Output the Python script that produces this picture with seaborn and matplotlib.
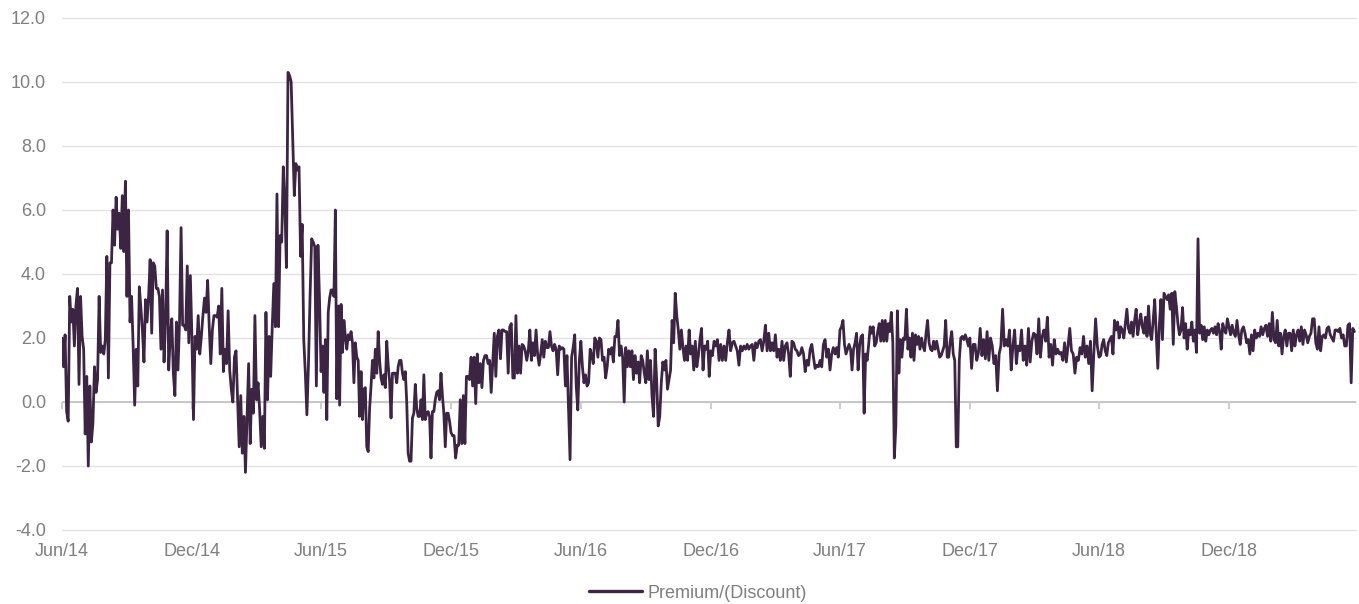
import numpy as np
import pandas as pd
import matplotlib
matplotlib.use("Agg")
import matplotlib.pyplot as plt
import matplotlib.dates as mdates
from matplotlib.lines import Line2D
import seaborn as sns

# ---- data: premium/(discount) %, by half-year ----
h2_2014 = [2.0, 1.1, 2.1, -0.3, -0.6, 3.3, 2.5, 2.9, 1.75, 3.0, 3.55, 0.55, 3.3, 2.05, 1.65, -1.0, 0.8, -2.0,
           0.5, -1.25, -0.65, 1.1, 0.3, 0.7, 3.3, 1.55, 1.75, 1.5, 1.95, 4.55, 0.75, 4.35, 4.35, 6.0, 4.9, 6.4,
           5.4, 5.9, 4.8, 6.45, 4.7, 6.9, 3.3, 6.0, 2.5, 3.3, 1.75, -0.1, 1.65, 0.5, 3.6, 2.95, 2.25, 1.25, 3.2,
           2.5, 3.3, 4.45, 2.15, 4.35, 4.25, 3.55, 3.55, 3.3, 1.65, 3.5, 1.25, 2.65, 5.35, 1.0, 2.05, 2.6, 0.9,
           0.2, 2.5, 1.0, 2.5, 5.45, 2.4, 2.4, 2.25, 4.25, 1.85, 3.95]
h1_2015 = [2.05, -0.55, 2.05, 1.65, 2.7, 1.5, 2.05, 2.7, 3.25, 2.8, 3.8, 2.35, 1.2, 2.25, 2.7, 2.7, 2.65, 3.0,
           1.5, 3.55, 0.95, 1.65, 1.2, 2.85, 1.0, 0.4, 0.0, 1.4, 1.6, 0.07, -1.4, 0.2, -1.6, -0.45, -2.2, -0.5,
           1.2, -1.3, 0.4, -0.35, 2.7, 0.07, 0.6, -0.25, -1.4, -0.45, -1.45, 2.8, 0.07, 2.05, 0.8, 2.35, 3.7,
           2.35, 6.5, 2.35, 5.2, 5.0, 7.35, 6.2, 4.2, 10.3, 10.2, 10.0, 8.2, 6.45, 7.45, 7.25, 7.35, 4.55, 5.55,
           1.95, 0.9, -0.4, 1.2, 3.3, 5.1, 5.0, 4.85, 0.5, 4.9, 3.2]
h2_2015 = [0.95, 1.75, 0.3, 1.95, -0.55, 2.8, 3.25, 3.5, 3.5, 3.3, 6.0, 0.1, 3.0, -0.1, 3.05, 1.55, 2.55, 2.05,
           1.65, 2.1, 1.95, 2.2, 1.85, 0.6, 1.85, 1.4, 1.3, -0.45, 0.95, -0.55, 0.4, 0.45, -1.4, -1.55, -0.2, 0.5,
           1.3, 0.75, 1.65, 0.9, 2.2, 1.3, 0.75, 0.55, 0.85, 0.45, 1.9, 1.15, 0.65, -0.5, 0.9, 0.9, 0.9, 0.6,
           1.1, 1.3, 1.3, 0.9, 0.7, 0.95, 0.0, -1.6, -1.85, -1.85, -0.5, -0.35, 0.55, -0.2, -0.45, -0.45, 0.07,
           -0.55, 0.85, -0.55, -0.35, -0.3, -0.45, -1.75, -0.3, -0.3, 0.07, 0.3, 0.35, 0.07, 0.9, 0.2, -0.35,
           -1.4, -0.35, -0.35, -0.6]
h1_2016 = [-0.95, -1.05, -1.05, -1.75, -1.35, -1.35, 0.07, -1.3, 0.2, -1.3, 0.8, 0.8, 0.7, 1.4, 0.5, 1.4, -0.05,
           1.5, 0.6, 1.2, 0.45, 1.3, 1.45, 1.45, 1.2, 1.3, 0.3, 1.2, 2.15, 0.8, 2.05, 2.25, 1.35, 2.25, 2.25, 2.2,
           2.2, 0.9, 2.35, 2.45, 0.75, 0.75, 2.7, 0.9, 1.75, 0.9, 1.8, 1.75, 1.6, 1.3, 1.6, 2.25, 1.3, 1.85, 1.45,
           2.25, 1.5, 1.15, 1.5, 1.95, 1.4, 1.9, 1.7, 1.7, 2.2, 1.75, 1.6, 1.8, 1.65, 0.85, 1.75, 1.65, 1.7, 1.65,
           0.5, 1.45, -0.15, -1.8, 1.4, 1.7, 2.1, 0.5, -0.25, 1.3]
h2_2016 = [1.9, 1.1, 0.6, 0.85, 0.5, 0.6, 1.65, 1.45, 1.2, 2.0, 1.9, 1.4, 2.0, 1.95, 1.3, 1.4, 0.75, 1.1, 1.65,
           1.5, 1.7, 1.25, 2.05, 2.05, 2.55, 1.45, 1.75, 1.4, 0.0, 1.7, 1.1, 1.6, 1.1, 1.6, 0.7, 1.45, 0.9, 1.25,
           0.6, 1.45, 1.3, 0.9, 0.6, 1.6, 0.7, 1.3, 0.2, -0.45, 1.65, 0.7, -0.75, -0.45, 0.6, 1.25, 1.0, 1.3, 0.4,
           0.7, 1.0, 2.55, 1.85, 3.4, 2.7, 2.25, 1.65, 2.25, 1.7, 1.3, 1.75, 1.3, 2.25, 1.5, 1.75, 1.0, 1.9, 1.1,
           1.45, 1.95, 2.3, 1.0, 1.75, 1.65, 1.9, 0.8]
h1_2017 = [1.6, 1.45, 1.9, 1.75, 1.95, 1.3, 1.8, 1.3, 1.75, 1.3, 1.85, 2.25, 1.6, 1.85, 1.9, 1.75, 1.6, 1.15,
           1.75, 1.6, 1.75, 1.65, 1.8, 1.65, 1.75, 1.8, 1.3, 1.85, 1.7, 1.9, 1.95, 1.6, 1.9, 2.4, 1.6, 2.15, 1.6,
           1.85, 1.6, 2.1, 1.4, 1.65, 1.3, 1.9, 1.3, 1.75, 1.85, 1.5, 0.8, 1.9, 1.85, 1.65, 1.6, 1.45, 1.5, 1.7,
           1.5, 0.95, 1.3, 1.15, 1.65, 1.8, 1.4, 1.05, 1.15, 1.1, 1.3, 1.1, 1.8, 1.95, 1.4, 1.65, 1.0, 1.5, 1.7,
           1.5, 1.7, 1.4]
h2_2017 = [2.25, 2.35, 2.55, 1.8, 1.5, 1.65, 1.8, 1.65, 1.0, 1.65, 1.85, 2.15, 1.0, 1.75, 2.05, 2.1, -0.35, 1.5,
           1.3, 1.8, 2.35, 2.15, 2.35, 1.75, 1.85, 2.2, 2.45, 1.9, 2.55, 1.9, 2.55, 1.9, 2.45, 2.2, 2.8, 1.85,
           -1.75, -0.75, 2.85, 0.9, 1.95, 1.4, 2.0, 1.95, 2.9, 1.65, 2.0, 1.4, 2.15, 1.3, 2.1, 1.8, 2.05, 1.65,
           2.0, 1.75, 1.6, 2.15, 2.55, 1.85, 1.65, 1.6, 1.9, 1.65, 1.9, 1.65, 1.4, 1.45, 1.6, 1.75, 2.55, 1.4,
           1.4, 1.9, 2.2, 1.5, 1.3, -1.4, -1.4, 1.3, 2.0, 2.05, 1.95, 2.1, 1.95, 1.75]
h1_2018 = [2.0, 1.05, 1.8, 1.8, 1.3, 1.55, 2.3, 1.45, 1.95, 1.35, 2.2, 1.3, 2.0, 1.75, 1.2, 1.45, 0.35, 1.5,
           1.75, 2.9, 1.75, 1.95, 1.75, 2.25, 1.0, 1.75, 2.25, 1.2, 1.75, 1.6, 2.25, 1.3, 1.75, 1.15, 2.3, 1.25,
           1.9, 2.15, 2.1, 1.5, 2.6, 1.4, 2.05, 2.25, 1.9, 2.65, 1.4, 1.8, 1.15, 1.95, 1.5, 1.65, 1.5, 1.55, 1.3,
           1.85, 1.25, 1.75, 2.3, 1.6, 1.5, 0.9, 1.4, 1.3, 1.7, 1.5, 2.05, 1.4, 1.75, 1.2, 1.9, 0.35, 1.55, 2.6,
           1.75]
h2_2018 = [1.4, 1.45, 1.8, 1.95, 1.6, 1.45, 1.85, 1.95, 2.05, 1.5, 2.55, 2.25, 2.5, 2.0, 2.35, 2.25, 2.0, 2.45,
           2.9, 2.3, 2.15, 2.5, 2.05, 2.55, 2.9, 2.1, 2.45, 2.75, 2.35, 2.15, 2.65, 2.05, 3.0, 2.15, 1.95, 2.55,
           3.2, 2.15, 1.05, 2.4, 3.2, 1.95, 3.4, 3.3, 3.2, 3.35, 2.9, 3.4, 1.8, 3.45, 3.0, 2.45, 2.1, 2.25, 2.95,
           2.0, 2.45, 1.65, 2.25, 2.1, 2.5, 1.9, 2.25, 1.55, 5.1, 2.15, 2.4, 1.95, 2.35, 1.9, 2.25, 2.1, 2.25,
           2.3, 2.15, 2.35, 2.1, 2.45, 2.2, 1.65, 2.45, 2.25, 2.15, 2.6]
h1_2019 = [2.35, 2.1, 2.4, 2.15, 2.05, 2.55, 2.1, 1.8, 2.25, 2.35, 2.15, 1.85, 1.95, 1.5, 2.1, 1.6, 2.25, 2.0,
           2.15, 2.05, 2.35, 2.1, 2.3, 2.4, 2.05, 2.45, 1.9, 2.8, 1.95, 1.85, 2.55, 1.75, 2.15, 1.5, 2.05, 2.25,
           1.75, 2.15, 2.15, 1.6, 2.25, 1.75, 2.1, 2.25, 1.9, 2.35, 1.8, 2.25, 2.1, 1.85, 2.05, 2.15, 2.6, 2.6,
           1.85, 1.65, 2.35, 1.6, 2.05, 2.1, 2.0, 2.3, 2.35, 2.1, 2.0, 1.9, 2.25, 2.25, 2.2, 2.3, 2.0, 2.1, 1.75,
           1.75, 2.4, 2.45, 0.6, 2.3, 2.2]

segments = [h2_2014, h1_2015, h2_2015, h1_2016, h2_2016, h1_2017, h2_2017, h1_2018, h2_2018, h1_2019]
segment_bounds = ["2014-06-01", "2014-12-01", "2015-06-01", "2015-12-01", "2016-06-01", "2016-12-01",
                  "2017-06-01", "2017-12-01", "2018-06-01", "2018-12-01", "2019-05-29"]
y_ticks = [-4, -2, 0, 2, 4, 6, 8, 10, 12]
series_name = "Premium/(Discount)"

frames = []
for vals, s, e in zip(segments, segment_bounds[:-1], segment_bounds[1:]):
    d = pd.date_range(s, e, periods=len(vals) + 1)[:-1]
    frames.append(pd.DataFrame({"date": d, "value": vals}))
df = pd.concat(frames, ignore_index=True)

# ---- style ----
sns.set_style("white")
plt.rcParams['font.family'] = ['Liberation Sans', 'DejaVu Sans']
plt.rcParams['axes.unicode_minus'] = False

LINE = "#3c2443"
TXT = "#7f7f7f"
W, H = 1359, 604

fig = plt.figure(figsize=(W / 100, H / 100), dpi=100)
ax = fig.add_axes([62 / W, 1 - 530 / H, (1356 - 62) / W, (530 - 18) / H])

ax.axhline(0, color="#c4c4c4", lw=1.3, zorder=1)
sns.lineplot(data=df, x="date", y="value", color=LINE, linewidth=2.0, estimator=None, ax=ax, zorder=3)

ax.set_xlim(pd.Timestamp(segment_bounds[0]), pd.Timestamp(segment_bounds[-1]))
ax.set_ylim(y_ticks[0], y_ticks[-1])
ax.set_yticks(y_ticks)
ax.set_yticklabels([f"{v:.1f}" for v in y_ticks])
ax.yaxis.grid(True, color="#e2e2e2", lw=1.0)
ax.xaxis.grid(False)
ax.set_axisbelow(True)
for gl in ax.get_ygridlines():
    gl.set_clip_on(False)
for sp in ax.spines.values():
    sp.set_visible(False)

ax.xaxis.set_major_locator(mdates.MonthLocator(bymonth=[6, 12]))
ax.xaxis.set_major_formatter(mdates.DateFormatter("%b/%y"))
ax.tick_params(axis="x", length=0, pad=9, labelsize=13, labelcolor=TXT)
ax.tick_params(axis="y", length=0, pad=11.5, labelsize=13, labelcolor=TXT)
ax.set_xlabel("")
ax.set_ylabel("")

# tick marks on the zero line
sec = ax.secondary_xaxis(0.25)
sec.xaxis.set_major_locator(mdates.MonthLocator(bymonth=[6, 12]))
sec.xaxis.set_major_formatter(matplotlib.ticker.NullFormatter())
sec.tick_params(axis="x", direction="out", length=5, width=1.2, color="#c4c4c4")
sec.spines["bottom"].set_visible(False)

fig.legend(handles=[Line2D([], [], color=LINE, lw=2.4)], labels=[series_name],
           loc="center", bbox_to_anchor=(698 / W, 1 - 593 / H), frameon=False,
           fontsize=13, labelcolor=TXT, handlelength=2.9, handletextpad=0.3)

fig.savefig("out.png", dpi=100)
